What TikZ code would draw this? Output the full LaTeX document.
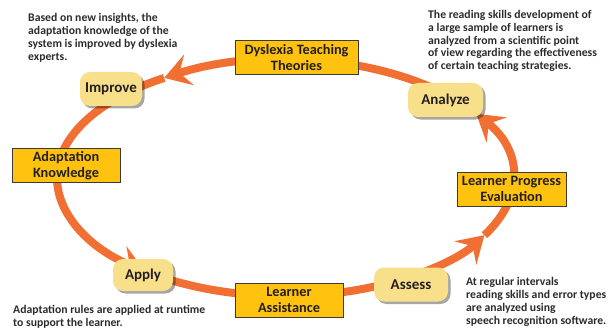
\documentclass[tikz,border=0pt]{standalone}
\usepackage{fontspec}
\setmainfont{Carlito}
\usetikzlibrary{arrows.meta,shadows}
\definecolor{arrowor}{HTML}{F26F33}
\definecolor{gold}{HTML}{FFC20E}
\definecolor{pale}{HTML}{F8E08A}
\definecolor{txt}{HTML}{231F20}
\definecolor{boxline}{HTML}{3A3A3A}
\definecolor{notetxt}{HTML}{2B2B2B}
\begin{document}
\begin{tikzpicture}[x=1pt,y=-1pt,
  ring/.style={draw=arrowor, line width=8pt},
  ringtip/.style={ring, -{Stealth[length=26pt,width=32pt,inset=10pt]}},
  gbox/.style={draw=boxline, line width=1pt, fill=gold, align=center,
    font=\bfseries\fontsize{14.3}{16}\selectfont, text=txt, inner sep=0pt,
    minimum height=34pt},
  pbox/.style={fill=pale, rounded corners=10pt, align=center,
    font=\bfseries\fontsize{15}{16}\selectfont, text=txt, inner sep=0pt,
    minimum height=34pt,
    drop shadow={shadow xshift=2.5pt, shadow yshift=-2.5pt, fill=black, opacity=0.35}},
  note/.style={align=left, font=\bfseries\fontsize{11.7}{12.8}\selectfont,
    text=notetxt, inner sep=0pt, anchor=north west}]
\useasboundingbox (0,0) rectangle (611,329);
\coordinate (C) at (285,178);
% ring
\draw[ringtip] ([shift={(-33:228 and 118)}]C) arc[start angle=-33, end angle=-122, x radius=228, y radius=118];
\draw[ringtip] ([shift={(-122:228 and 118)}]C) arc[start angle=-122, end angle=-232, x radius=228, y radius=118];
\draw[ringtip] ([shift={(-232:228 and 118)}]C) arc[start angle=-232, end angle=-331, x radius=228, y radius=118];
\draw[ringtip] ([shift={(-331:228 and 118)}]C) arc[start angle=-331, end angle=-393, x radius=228, y radius=118];
% boxes
\node[gbox, minimum width=123pt] (dtt) at (296.5,58) {Dyslexia Teaching\\Theories};
\node[gbox, minimum width=108pt] (ak) at (66,165.5) {Adaptation\\Knowledge};
\node[gbox, minimum width=109pt] (lpe) at (511.5,189) {Learner Progress\\Evaluation};
\node[gbox, minimum width=108pt] (la) at (289,300) {Learner\\Assistance};
% rounded
\node[pbox, minimum width=62pt] (imp) at (111,89) {Improve};
\node[pbox, minimum width=75pt] (ana) at (445.5,100) {Analyze};
\node[pbox, minimum width=60pt, minimum height=32pt] (app) at (143,275) {Apply};
\node[pbox, minimum width=74pt] (ass) at (411,284.5) {Assess};
% notes
\node[note] (n1) at (28,13.5) {Based on new insights, the\\adaptation knowledge of the\\system is improved by dyslexia\\experts.};
\node[note] (n2) at (428,10) {The reading skills development of\\a large sample of learners is\\analyzed from a scientific point\\of view regarding the effectiveness\\of certain teaching strategies.};
\node[note] (n3) at (13,305.5) {Adaptation rules are applied at runtime\\to support the learner.};
\node[note] (n4) at (466,277.5) {At regular intervals\\reading skills and error types\\are analyzed using\\speech recognition software.};
\end{tikzpicture}
\end{document}
